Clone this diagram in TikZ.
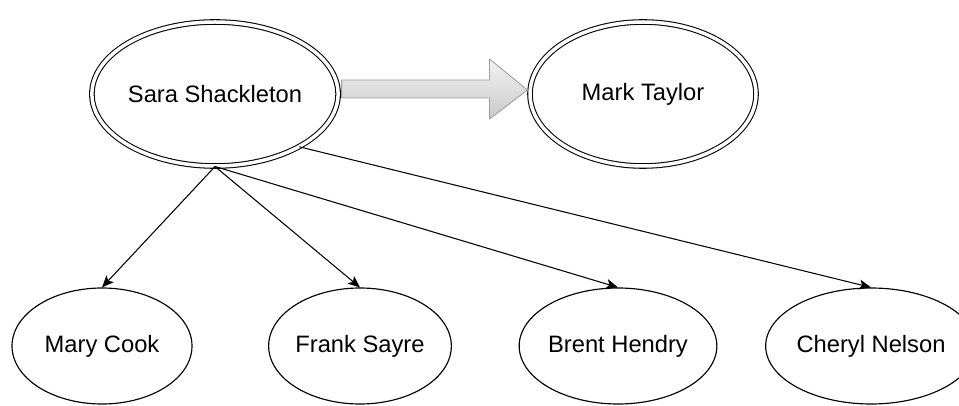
\documentclass[tikz,border=0pt]{standalone}
\usepackage{fontspec}
\setmainfont{Liberation Sans}
\usetikzlibrary{shapes.geometric,arrows.meta,calc}
\begin{document}
\begin{tikzpicture}[x=1cm,y=1cm,line cap=round,line join=round,
  boss/.style={ellipse,draw,line width=0.6pt,double,double distance=0.07cm,
    minimum width=4.52cm,minimum height=2.88cm,inner sep=0pt,
    font=\fontsize{13.5}{16}\selectfont},
  staff/.style={ellipse,draw,line width=0.65pt,
    minimum width=3.6cm,minimum height=2.32cm,inner sep=0pt,
    font=\fontsize{13.5}{16}\selectfont},
  reports/.style={line width=0.6pt,-{Stealth[length=0.24cm,width=0.2cm,inset=0.06cm]}},
  handover/.style={draw=gray!75,line width=0.5pt,top color=gray!10,bottom color=gray!42}]
  \useasboundingbox (0,0) rectangle (19.18,-8.12);
  \node[boss] (sara) at (4.30,-1.88) {Sara Shackleton};
  \node[boss] (mark) at (12.86,-1.88) {Mark Taylor};
  \node[staff] (mary) at (2.04,-6.92) {Mary Cook};
  \node[staff] (frank) at (7.20,-6.92) {Frank Sayre};
  \node[staff] (brent) at (12.36,-6.92) {Brent Hendry};
  \node[staff] (cheryl) at (17.42,-6.92) {Cheryl Nelson};
  \path[handover] ($(sara.east)+(0.06,0.28)$) -- ($(mark.west)+(-0.8,0.28)$)
    -- ($(mark.west)+(-0.8,0.70)$) -- ($(mark.west)+(-0.04,0.08)$)
    -- ($(mark.west)+(-0.8,-0.50)$) -- ($(mark.west)+(-0.8,-0.08)$)
    -- ($(sara.east)+(0.06,-0.08)$) -- cycle;
  \draw[reports] (sara.south) -- (mary.north);
  \draw[reports] (sara.south) -- (frank.north);
  \draw[reports] (sara.south) -- (brent.north);
  \draw[reports] (sara.-32) -- (cheryl.north);
\end{tikzpicture}
\end{document}
